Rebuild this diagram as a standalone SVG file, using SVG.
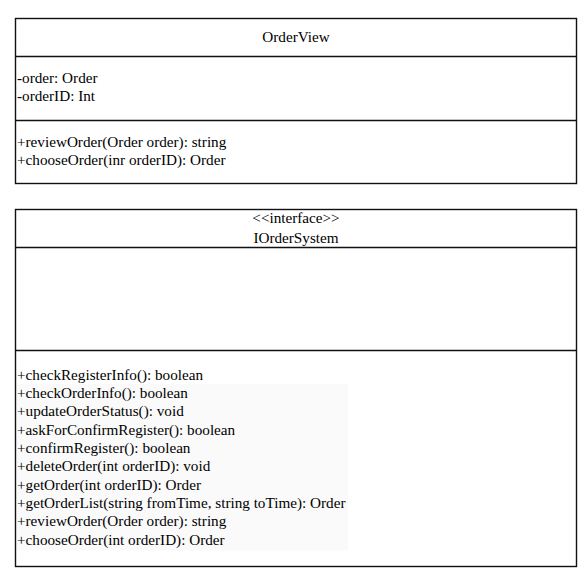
<svg xmlns="http://www.w3.org/2000/svg" width="588" height="574" viewBox="0 0 588 574">
<style>
.box{fill:#fff;stroke:#111;stroke-width:1.4}
.div{stroke:#111;stroke-width:1.4}
.c{text-anchor:middle}
</style>
<rect width="588" height="574" fill="#fff"/>
<g id="OrderView" font-family="Liberation Serif, DejaVu Serif, Times New Roman, serif" font-size="15.2" fill="#000">
<rect class="box" x="15.5" y="18.5" width="561" height="165"/>
<line class="div" x1="15.5" y1="56.5" x2="576.5" y2="56.5"/>
<line class="div" x1="15.5" y1="120.5" x2="576.5" y2="120.5"/>
<text class="c" x="296" y="42">OrderView</text>
<text x="17" y="83">-order: Order</text>
<text x="17" y="101">-orderID: Int</text>
<text x="17" y="146.5">+reviewOrder(Order order): string</text>
<text x="17" y="164.5">+chooseOrder(inr orderID): Order</text>
</g>
<g id="IOrderSystem" font-family="Liberation Serif, DejaVu Serif, Times New Roman, serif" font-size="15.2" fill="#000">
<rect class="box" x="15.5" y="209.5" width="561" height="357"/>
<line class="div" x1="15.5" y1="247.5" x2="576.5" y2="247.5"/>
<line class="div" x1="15.5" y1="350.5" x2="576.5" y2="350.5"/>
<text class="c" x="296" y="223">&lt;&lt;interface&gt;&gt;</text>
<text class="c" x="296" y="242.5">IOrderSystem</text>
<rect x="17" y="384" width="331" height="166.5" fill="#fafafa"/>
<text x="17" y="379.5">+checkRegisterInfo(): boolean</text>
<text x="17" y="397.8">+checkOrderInfo(): boolean</text>
<text x="17" y="416.2">+updateOrderStatus(): void</text>
<text x="17" y="434.5">+askForConfirmRegister(): boolean</text>
<text x="17" y="452.8">+confirmRegister(): boolean</text>
<text x="17" y="471.2">+deleteOrder(int orderID): void</text>
<text x="17" y="489.5">+getOrder(int orderID): Order</text>
<text x="17" y="507.8">+getOrderList(string fromTime, string toTime): Order</text>
<text x="17" y="526.2">+reviewOrder(Order order): string</text>
<text x="17" y="544.5">+chooseOrder(int orderID): Order</text>
</g>
<g id="connectors"></g>
</svg>
